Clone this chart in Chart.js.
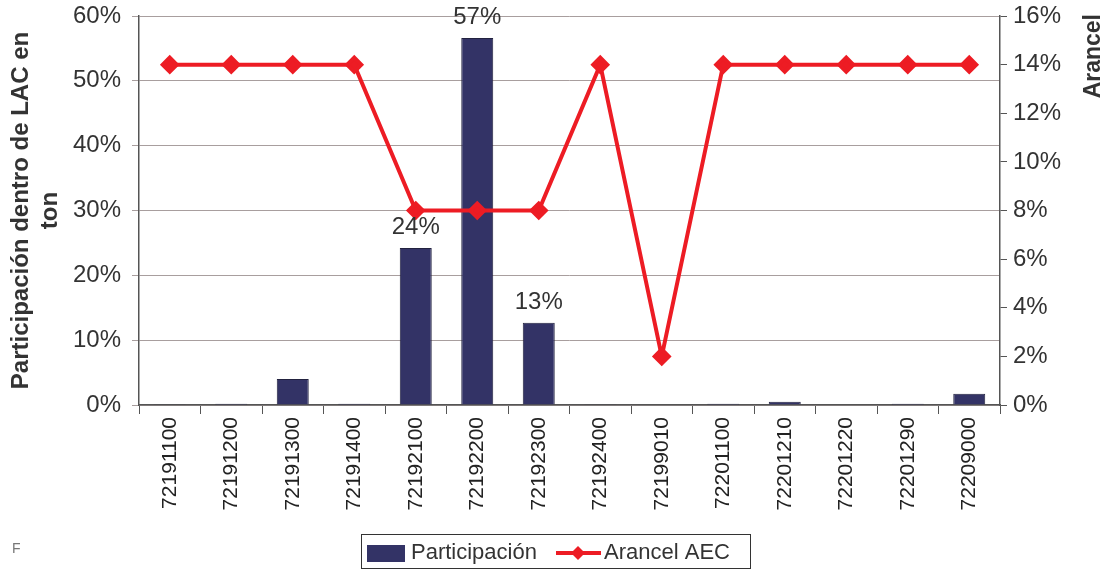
<!DOCTYPE html>
<html>
<head>
<meta charset="utf-8">
<script src="https://cdn.jsdelivr.net/npm/chart.js@4/dist/chart.umd.min.js"></script>
<style>
  html, body { margin: 0; padding: 0; background: #fff; }
  #wrap { width: 1112px; height: 571px; position: relative; }
</style>
</head>
<body>
<div id="wrap"><canvas id="c" width="1112" height="571"></canvas></div>
<script>
// Tariff lines (HS codes)
const categories = ['72191100','72191200','72191300','72191400','72192100','72192200','72192300',
                    '72192400','72199010','72201100','72201210','72201220','72201290','72209000'];
// Share within LAC, in tons (%)
const participacion = [0.1, 0.2, 4.0, 0.2, 24.2, 56.6, 12.7, 0.1, 0.0, 0.2, 0.5, 0.0, 0.2, 1.75];
// Common external tariff (%)
const arancelAEC = [14, 14, 14, 14, 8, 8, 8, 14, 2, 14, 14, 14, 14, 14];
// Axis ticks
const leftTicks = [0, 10, 20, 30, 40, 50, 60];
const rightTicks = [0, 2, 4, 6, 8, 10, 12, 14, 16];

const FONT = "'Liberation Sans', Arial, Helvetica, sans-serif";
const BAR = '#333366';
const RED = '#ed1c24';
const AXIS = '#555555';

const extras = {
  id: 'extras',
  afterDatasetsDraw(chart) {
    const ctx = chart.ctx;
    // value labels over the larger bars
    const meta = chart.getDatasetMeta(1);
    ctx.save();
    ctx.font = `24px ${FONT}`;
    ctx.fillStyle = '#333';
    ctx.textAlign = 'center';
    ctx.textBaseline = 'alphabetic';
    meta.data.forEach((el, i) => {
      const v = participacion[i];
      if (v >= 10) ctx.fillText(Math.round(v) + '%', el.x, el.y - 14);
    });
    ctx.restore();
  },
  afterDraw(chart) {
    const ctx = chart.ctx;
    // right axis title, reading upward, aligned to the top
    ctx.save();
    ctx.translate(1094, 14);
    ctx.rotate(-Math.PI / 2);
    ctx.font = `bold 23px ${FONT}`;
    ctx.fillStyle = '#333';
    ctx.textAlign = 'right';
    ctx.textBaseline = 'middle';
    ctx.fillText('Arancel', 0, 0);
    ctx.restore();

    // legend
    ctx.save();
    ctx.strokeStyle = '#333';
    ctx.lineWidth = 1;
    ctx.strokeRect(361.5, 534.5, 389, 34);
    ctx.fillStyle = BAR;
    ctx.fillRect(367, 545, 38, 17);
    ctx.font = `22px ${FONT}`;
    ctx.fillStyle = '#333';
    ctx.textBaseline = 'middle';
    ctx.textAlign = 'left';
    ctx.fillText('Participación', 411, 553);
    ctx.strokeStyle = RED;
    ctx.lineWidth = 4;
    ctx.beginPath();
    ctx.moveTo(556, 553);
    ctx.lineTo(601, 553);
    ctx.stroke();
    ctx.fillStyle = RED;
    ctx.beginPath();
    ctx.moveTo(578, 546); ctx.lineTo(585, 553); ctx.lineTo(578, 560); ctx.lineTo(571, 553);
    ctx.closePath();
    ctx.fill();
    ctx.fillStyle = '#333';
    ctx.fillText('Arancel AEC', 604, 553);

    // source note stub
    ctx.font = `14px ${FONT}`;
    ctx.fillStyle = '#777';
    ctx.fillText('F', 12, 549);
    ctx.restore();
  }
};

new Chart(document.getElementById('c'), {
  data: {
    labels: categories,
    datasets: [
      {
        type: 'line',
        label: 'Arancel AEC',
        data: arancelAEC,
        yAxisID: 'y1',
        borderColor: RED,
        backgroundColor: RED,
        borderWidth: 4,
        pointStyle: 'rectRot',
        pointRadius: 7,
        pointBackgroundColor: RED,
        pointBorderColor: RED,
        tension: 0,
        order: 0
      },
      {
        type: 'bar',
        label: 'Participación',
        data: participacion,
        yAxisID: 'y',
        backgroundColor: BAR,
        borderColor: '#22223f',
        borderWidth: 1,
        barPercentage: 0.52,
        categoryPercentage: 1.0,
        order: 1
      }
    ]
  },
  options: {
    responsive: false,
    animation: false,
    devicePixelRatio: 1,
    layout: { padding: { top: 16, bottom: 0, left: 0, right: 0 } },
    plugins: { legend: { display: false }, tooltip: { enabled: false } },
    scales: {
      x: {
        offset: true,
        grid: { offset: true, drawOnChartArea: false, tickLength: 9, color: AXIS, lineWidth: 1 },
        border: { color: AXIS, width: 1.5 },
        ticks: { minRotation: 90, maxRotation: 90, autoSkip: false, padding: 3,
                 font: { family: FONT, size: 21 }, color: '#222' },
        afterFit(s) { s.height = 166; }
      },
      y: {
        position: 'left',
        min: leftTicks[0], max: leftTicks[leftTicks.length - 1],
        afterBuildTicks(s) { s.ticks = leftTicks.map(v => ({ value: v })); },
        ticks: { callback: v => v + '%', padding: 11, font: { family: FONT, size: 24, lineHeight: 1 }, color: '#333' },
        grid: { color: '#a89e9e', tickLength: 7, lineWidth: 1 },
        border: { color: AXIS, width: 1.5 },
        title: {
          display: true,
          text: ['Participación dentro de LAC en', 'ton'],
          font: { family: FONT, size: 24, weight: 'bold', lineHeight: 1.2 },
          color: '#333',
          padding: { top: 7, bottom: 0 }
        },
        afterFit(s) { s.width = 139; s.paddingTop = 4; s.paddingBottom = 4; }
      },
      y1: {
        position: 'right',
        min: rightTicks[0], max: rightTicks[rightTicks.length - 1],
        afterBuildTicks(s) { s.ticks = rightTicks.map(v => ({ value: v })); },
        ticks: { callback: v => v + '%', padding: 6, font: { family: FONT, size: 24, lineHeight: 1 }, color: '#333' },
        grid: { drawOnChartArea: false, tickLength: 7, color: AXIS },
        border: { color: AXIS, width: 1.5 },
        afterFit(s) { s.width = 112; s.paddingTop = 4; s.paddingBottom = 4; }
      }
    }
  },
  plugins: [extras]
});
</script>
</body>
</html>
